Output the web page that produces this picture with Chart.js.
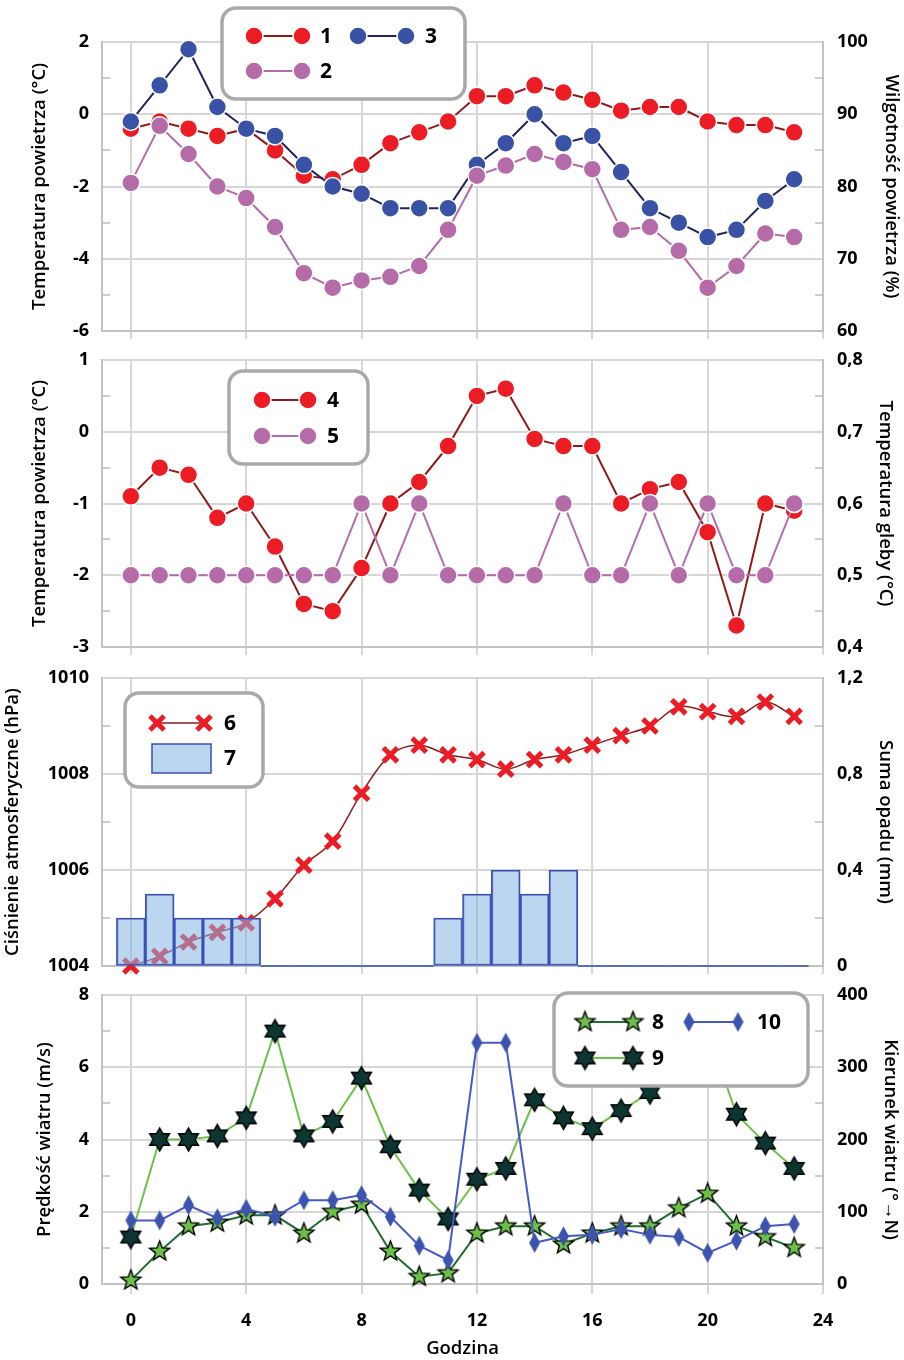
<!DOCTYPE html>
<html>
<head>
<meta charset="utf-8">
<script src="https://cdn.jsdelivr.net/npm/chart.js@4.4.1/dist/chart.umd.min.js"></script>
<style>
  body { margin: 0; background: #fff; }
  #wrap { position: relative; width: 904px; height: 1360px; }
  canvas { position: absolute; left: 0; }
</style>
</head>
<body>
<div id="wrap">
  <canvas id="c1" width="904" height="345" style="top:0px"></canvas>
  <canvas id="c2" width="904" height="318" style="top:345px"></canvas>
  <canvas id="c3" width="904" height="318" style="top:663px"></canvas>
  <canvas id="c4" width="904" height="379" style="top:981px"></canvas>
</div>
<script>
// hours of the day
var hours = [0,1,2,3,4,5,6,7,8,9,10,11,12,13,14,15,16,17,18,19,20,21,22,23];
var xTicks = [0, 4, 8, 12, 16, 20, 24];

// panel 1: air temperature (1) and humidity (2, 3)
var temp1 = [-0.4,-0.2,-0.4,-0.6,-0.4,-1.0,-1.7,-1.8,-1.4,-0.8,-0.5,-0.2,0.5,0.5,0.8,0.6,0.4,0.1,0.2,0.2,-0.2,-0.3,-0.3,-0.5];
var hum2 = [80.5,88.4,84.5,80,78.4,74.4,68,66,67,67.5,69,74,81.5,82.9,84.5,83.4,82.4,74,74.4,71.1,66,69,73.5,73];
var hum3 = [89,94,99,91,88,87,83,80,79,77,77,77,83,86,90,86,87,82,77,75,73,74,78,81];

// panel 2: air temperature (4) and soil temperature (5)
var temp4 = [-0.9,-0.5,-0.6,-1.2,-1.0,-1.6,-2.4,-2.5,-1.9,-1.0,-0.7,-0.2,0.5,0.6,-0.1,-0.2,-0.2,-1.0,-0.8,-0.7,-1.4,-2.7,-1.0,-1.1];
var soil5 = [0.5,0.5,0.5,0.5,0.5,0.5,0.5,0.5,0.6,0.5,0.6,0.5,0.5,0.5,0.5,0.6,0.5,0.5,0.6,0.5,0.6,0.5,0.5,0.6];

// panel 3: pressure (6) and precipitation (7)
var press6 = [1004.0,1004.2,1004.5,1004.7,1004.9,1005.4,1006.1,1006.6,1007.6,1008.4,1008.6,1008.4,1008.3,1008.1,1008.3,1008.4,1008.6,1008.8,1009.0,1009.4,1009.3,1009.2,1009.5,1009.2];
var rain7 = [0.2,0.3,0.2,0.2,0.2,0,0,0,0,0,0,0.2,0.3,0.4,0.3,0.4,0,0,0,0,0,0,0,0];

// panel 4: wind speed (8, 9) and direction (10)
var wind8 = [0.1,0.9,1.6,1.7,1.9,1.9,1.4,2.0,2.2,0.9,0.2,0.3,1.4,1.6,1.6,1.1,1.4,1.6,1.6,2.1,2.5,1.6,1.3,1.0];
var wind9 = [1.3,4.0,4.0,4.1,4.6,7.0,4.1,4.5,5.7,3.8,2.6,1.8,2.9,3.2,5.1,4.6,4.3,4.8,5.3,6.0,7.0,4.7,3.9,3.2];
var dir10 = [88,88,109,91,104,93,116,116,123,93,53,33,334,334,57,66,68,76,68,65,43,60,80,83];

Chart.defaults.font.family = '"Open Sans", sans-serif';
Chart.defaults.color = '#111';

function xy(vals) {
  return hours.map(function (h, i) { return { x: h, y: vals[i] }; });
}
function comma(v) {
  return v === 0 ? '0' : v.toFixed(1).replace('.', ',');
}

// custom marker images
function starImg(n, rOut, rIn, fill) {
  var s = Math.ceil(rOut * 2 + 4), c = document.createElement('canvas');
  c.width = s; c.height = s;
  var g = c.getContext('2d');
  g.beginPath();
  for (var k = 0; k < n * 2; k++) {
    var r = k % 2 ? rIn : rOut, a = -Math.PI / 2 + k * Math.PI / n;
    g.lineTo(s / 2 + r * Math.cos(a), s / 2 + r * Math.sin(a));
  }
  g.closePath();
  g.fillStyle = fill; g.fill();
  g.lineWidth = 1.4; g.strokeStyle = '#000'; g.stroke();
  return c;
}
function diamondImg(w, h, fill) {
  var c = document.createElement('canvas');
  c.width = w + 2; c.height = h + 2;
  var g = c.getContext('2d');
  g.beginPath();
  g.moveTo(c.width / 2, 1); g.lineTo(c.width - 1, c.height / 2);
  g.lineTo(c.width / 2, c.height - 1); g.lineTo(1, c.height / 2);
  g.closePath(); g.fillStyle = fill; g.fill();
  return c;
}
var star5 = starImg(5, 10.5, 4.4, '#6cc04a');
var star6 = starImg(6, 11.5, 6.6, '#0d3532');
var diam = diamondImg(11, 20, '#3c54b0');

function roundRect(ctx, x, y, w, h, r) {
  ctx.beginPath();
  ctx.moveTo(x + r, y); ctx.lineTo(x + w - r, y); ctx.arcTo(x + w, y, x + w, y + r, r);
  ctx.lineTo(x + w, y + h - r); ctx.arcTo(x + w, y + h, x + w - r, y + h, r);
  ctx.lineTo(x + r, y + h); ctx.arcTo(x, y + h, x, y + h - r, r);
  ctx.lineTo(x, y + r); ctx.arcTo(x, y, x + r, y, r);
  ctx.closePath();
}

// minor ticks, flat zero bars and the boxed legend drawn over the data
var extras = {
  id: 'extras',
  afterDatasetsDraw: function (chart) {
    var ctx = chart.ctx;
    chart.data.datasets.forEach(function (ds, i) {
      if (ds.type !== 'bar') return;
      var meta = chart.getDatasetMeta(i);
      ctx.save();
      ctx.strokeStyle = ds.borderColor; ctx.lineWidth = 1.5;
      meta.data.forEach(function (bar, j) {
        if (ds.data[j].y !== 0) return;
        var p = bar.getProps(['x', 'width', 'base'], true);
        ctx.beginPath();
        ctx.moveTo(p.x - p.width / 2, p.base); ctx.lineTo(p.x + p.width / 2, p.base);
        ctx.stroke();
      });
      ctx.restore();
    });
  },
  afterDraw: function (chart, args, opts) {
    var ctx = chart.ctx, area = chart.chartArea;
    ctx.save();
    ctx.strokeStyle = '#bdbdbd'; ctx.lineWidth = 1.5;
    ['y', 'y1'].forEach(function (id) {
      var sc = chart.scales[id];
      for (var k = 0; k < sc.ticks.length - 1; k++) {
        var py = Math.round(sc.getPixelForValue((sc.ticks[k].value + sc.ticks[k + 1].value) / 2));
        ctx.beginPath();
        if (id === 'y') { ctx.moveTo(area.left, py); ctx.lineTo(area.left + 8, py); }
        else { ctx.moveTo(area.right - 8, py); ctx.lineTo(area.right, py); }
        ctx.stroke();
      }
    });
    ctx.restore();

    if (!opts.box) return;
    var b = opts.box;
    ctx.save();
    roundRect(ctx, b[0], b[1], b[2], b[3], 14);
    ctx.fillStyle = '#fff'; ctx.fill();
    ctx.lineWidth = 3.5; ctx.strokeStyle = '#a9a9a9'; ctx.stroke();
    opts.items.forEach(function (it) {
      var ds = chart.data.datasets[it.ds];
      if (ds.type === 'bar') {
        ctx.fillStyle = ds.backgroundColor;
        ctx.fillRect(it.x1, it.y - 14, it.x2 - it.x1, 29);
        ctx.strokeStyle = ds.borderColor; ctx.lineWidth = 1.5;
        ctx.strokeRect(it.x1, it.y - 14, it.x2 - it.x1, 29);
      } else {
        ctx.strokeStyle = ds.borderColor; ctx.lineWidth = ds.borderWidth;
        ctx.beginPath(); ctx.moveTo(it.x1, it.y); ctx.lineTo(it.x2, it.y); ctx.stroke();
        [it.x1, it.x2].forEach(function (px) {
          ctx.fillStyle = ds.pointBackgroundColor;
          ctx.strokeStyle = ds.pointBorderColor;
          ctx.lineWidth = ds.pointBorderWidth;
          Chart.helpers.drawPoint(ctx, { pointStyle: ds.pointStyle, radius: ds.pointRadius, borderWidth: ds.pointBorderWidth, rotation: 0 }, px, it.y);
        });
      }
      ctx.fillStyle = '#000';
      ctx.font = 'bold 21px "Open Sans", sans-serif';
      ctx.textBaseline = 'middle'; ctx.textAlign = 'left';
      ctx.fillText(it.label, it.tx, it.y + 1);
    });
    ctx.restore();
  }
};

var gridColor = '#d6d6d6', borderColor = '#c2c2c2';
var tickFont = { size: 18, weight: 'bold' };
var titleFont = { size: 18.5, weight: '600' };

// keep the plot area exactly where the layout padding puts it
function noEdgePad(s) {
  s.paddingTop = 0; s.paddingBottom = 0; s.paddingLeft = 0; s.paddingRight = 0;
}

function makeScales(p) {
  return {
    x: {
      type: 'linear', min: -1, max: 24, offset: false,
      afterBuildTicks: function (s) { s.ticks = xTicks.map(function (v) { return { value: v }; }); },
      afterFit: function (s) { s.height = p.xh; noEdgePad(s); },
      grid: { color: gridColor, lineWidth: 2, drawTicks: true, tickLength: p.tl || 8, offset: false },
      border: { color: borderColor, width: 2 },
      ticks: { display: !!p.xlabels, font: tickFont, color: '#000', padding: 16, maxRotation: 0 },
      title: { display: !!p.xlabels, text: 'Godzina', font: titleFont, color: '#000', padding: { top: 0, bottom: 0 } }
    },
    y: {
      position: 'left', min: p.ymin, max: p.ymax,
      ticks: { stepSize: p.ystep, font: tickFont, color: '#000', padding: 13, callback: p.yfmt },
      afterFit: function (s) { s.width = 102; noEdgePad(s); },
      grid: { color: gridColor, lineWidth: 2, drawTicks: false },
      border: { color: borderColor, width: 2 },
      title: { display: true, text: p.ytitle, font: titleFont, color: '#000', padding: { top: p.ypad, bottom: 0 } }
    },
    y1: {
      position: 'right', min: p.rmin, max: p.rmax,
      ticks: { stepSize: p.rstep, font: tickFont, color: '#000', padding: 14, callback: p.rfmt },
      afterFit: function (s) { s.width = 81; noEdgePad(s); },
      grid: { drawOnChartArea: false, drawTicks: false },
      border: { color: borderColor, width: 2 },
      title: { display: true, text: p.rtitle, font: titleFont, color: '#000', padding: { top: p.rpad, bottom: 0 } }
    }
  };
}

function baseOptions(p, padTop, legend) {
  return {
    responsive: false, animation: false, devicePixelRatio: 1, events: [],
    layout: { padding: { top: padTop, left: 0, right: 0, bottom: 0 } },
    plugins: { legend: { display: false }, tooltip: { enabled: false }, extras: legend },
    scales: makeScales(p)
  };
}

function circleSet(vals, axis, fill, line, order) {
  return {
    type: 'line', data: xy(vals), yAxisID: axis, order: order, clip: false,
    borderColor: line, borderWidth: 2,
    pointStyle: 'circle', pointRadius: 9, pointBackgroundColor: fill,
    pointBorderColor: '#fff', pointBorderWidth: 1.5
  };
}

// panel 1
new Chart(document.getElementById('c1'), {
  type: 'line',
  data: { datasets: [
    circleSet(temp1, 'y', '#ec1c24', '#8e1b1b', 3),
    circleSet(hum2, 'y1', '#b56ba8', '#b56ba8', 1),
    circleSet(hum3, 'y1', '#3a52a6', '#22235e', 2)
  ] },
  options: baseOptions({
    xh: 14, ymin: -6, ymax: 2, ystep: 2, ytitle: 'Temperatura powietrza (°C)', ypad: 29,
    rmin: 60, rmax: 100, rstep: 10, rtitle: 'Wilgotność powietrza (%)', rpad: 2
  }, 42, {
    box: [222, 8, 243, 91],
    items: [
      { ds: 0, x1: 254, x2: 302, y: 36, tx: 320, label: '1' },
      { ds: 2, x1: 358, x2: 406, y: 36, tx: 425, label: '3' },
      { ds: 1, x1: 254, x2: 302, y: 71, tx: 320, label: '2' }
    ]
  }),
  plugins: [extras]
});

// panel 2
new Chart(document.getElementById('c2'), {
  type: 'line',
  data: { datasets: [
    circleSet(temp4, 'y', '#ec1c24', '#8e1b1b', 2),
    circleSet(soil5, 'y1', '#b56ba8', '#b56ba8', 1)
  ] },
  options: baseOptions({
    xh: 16, ymin: -3, ymax: 1, ystep: 1, ytitle: 'Temperatura powietrza (°C)', ypad: 29,
    rmin: 0.4, rmax: 0.8, rstep: 0.1, rfmt: comma, rtitle: 'Temperatura gleby (°C)', rpad: 8
  }, 15, {
    box: [229, 26, 139, 93],
    items: [
      { ds: 0, x1: 262, x2: 308, y: 55, tx: 327, label: '4' },
      { ds: 1, x1: 262, x2: 308, y: 91, tx: 327, label: '5' }
    ]
  }),
  plugins: [extras]
});

// panel 3
new Chart(document.getElementById('c3'), {
  type: 'line',
  data: { datasets: [
    {
      type: 'line', data: xy(press6), yAxisID: 'y', order: 2, clip: false,
      borderColor: '#8e1b1b', borderWidth: 1.5, tension: 0.35,
      pointStyle: 'crossRot', pointRadius: 10, pointBorderColor: '#ec1c24',
      pointBackgroundColor: '#ec1c24', pointBorderWidth: 5
    },
    {
      type: 'bar', data: xy(rain7), yAxisID: 'y1', order: 1,
      backgroundColor: 'rgba(135,180,226,0.55)', borderColor: '#3a4fb4', borderWidth: 1.5,
      barPercentage: 1, categoryPercentage: 1, borderSkipped: false
    }
  ] },
  options: baseOptions({
    xh: 15, ymin: 1004, ymax: 1010, ystep: 2, ytitle: 'Ciśnienie atmosferyczne (hPa)', ypad: 2,
    rmin: 0, rmax: 1.2, rstep: 0.4, rfmt: comma, rtitle: 'Suma opadu (mm)', rpad: 8
  }, 14, {
    box: [125, 30, 138, 94],
    items: [
      { ds: 0, x1: 157, x2: 204, y: 60, tx: 224, label: '6' },
      { ds: 1, x1: 152, x2: 211, y: 95, tx: 224, label: '7' }
    ]
  }),
  plugins: [extras]
});

// panel 4
function starSet(vals, axis, img, line, order) {
  return {
    type: 'line', data: xy(vals), yAxisID: axis, order: order, clip: false,
    borderColor: line, borderWidth: 2,
    pointStyle: img, pointRadius: 8, pointBackgroundColor: line,
    pointBorderColor: line, pointBorderWidth: 0
  };
}
new Chart(document.getElementById('c4'), {
  type: 'line',
  data: { datasets: [
    starSet(wind8, 'y', star5, '#1f6d31', 3),
    starSet(wind9, 'y', star6, '#6cc04a', 2),
    starSet(dir10, 'y1', diam, '#4559c6', 1)
  ] },
  options: baseOptions({
    xh: 76, tl: 10, xlabels: true, ymin: 0, ymax: 8, ystep: 2, ytitle: 'Prędkość wiatru (m/s)', ypad: 34,
    rmin: 0, rmax: 400, rstep: 100, rtitle: 'Kierunek wiatru (°→N)', rpad: 3
  }, 14, {
    box: [554, 12, 254, 93],
    items: [
      { ds: 0, x1: 585, x2: 633, y: 41, tx: 652, label: '8' },
      { ds: 2, x1: 689, x2: 738, y: 41, tx: 757, label: '10' },
      { ds: 1, x1: 585, x2: 633, y: 77, tx: 652, label: '9' }
    ]
  }),
  plugins: [extras]
});
</script>
</body>
</html>
